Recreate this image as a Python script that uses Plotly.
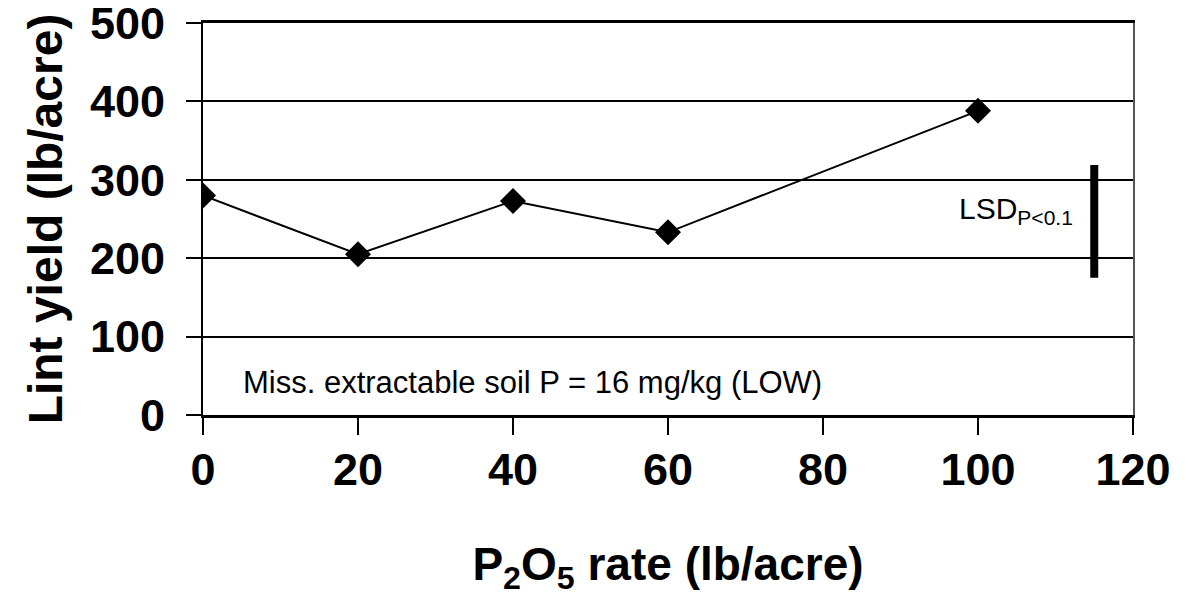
import plotly.graph_objects as go

# Data
p_rate = [0, 20, 40, 60, 100]
lint_yield = [280, 205, 273, 233, 388]
lsd_x = [115, 115]
lsd_y = [175, 319]
x_ticks = [0, 20, 40, 60, 80, 100, 120]
y_ticks = [0, 100, 200, 300, 400, 500]
note_text = "Miss. extractable soil P = 16 mg/kg (LOW)"
lsd_text = "LSD<sub>P&lt;0.1</sub>"
x_title = "P<sub>2</sub>O<sub>5</sub> rate (lb/acre)"
y_title = "Lint yield (lb/acre)"

FONT = "Liberation Sans, Arial, sans-serif"

fig = go.Figure()
fig.add_trace(go.Scatter(
    x=p_rate, y=lint_yield, mode="lines+markers",
    line=dict(color="black", width=2),
    marker=dict(symbol="diamond", size=20, color="black"),
    showlegend=False, hoverinfo="x+y"))
fig.add_trace(go.Scatter(
    x=lsd_x, y=lsd_y, mode="lines",
    line=dict(color="black", width=8),
    showlegend=False, hoverinfo="skip"))
# invisible trace on secondary axis to draw right frame line
fig.add_trace(go.Scatter(x=[p_rate[0]], y=[lint_yield[0]], yaxis="y2",
                         mode="markers", marker=dict(opacity=0),
                         showlegend=False, hoverinfo="skip"))

fig.add_annotation(x=4.9, y=42, text=note_text, showarrow=False,
                   xanchor="left", yanchor="middle",
                   font=dict(family=FONT, size=31, color="black"))
fig.add_annotation(x=112.5, y=261, text=lsd_text, showarrow=False,
                   xanchor="right", yanchor="middle",
                   font=dict(family=FONT, size=30, color="black"))

fig.update_layout(
    width=1177, height=597,
    margin=dict(l=195, r=52, t=15, b=190),
    paper_bgcolor="white", plot_bgcolor="white",
    font=dict(family=FONT, color="black"),
    xaxis=dict(
        range=[0, 120], tickvals=x_ticks, ticktext=[str(v) for v in x_ticks],
        showgrid=False, zeroline=False, automargin=False,
        showline=True, linecolor="black", linewidth=3, mirror=True,
        ticks="outside", ticklen=17, tickwidth=2, tickcolor="black",
        tickfont=dict(family=FONT, size=45, weight="bold"),
        ticklabelstandoff=-4, ticklabeloverflow="allow",
        title=dict(text=x_title, font=dict(family=FONT, size=46, weight="bold"),
                   standoff=54),
    ),
    yaxis=dict(
        range=[0, 500], tickvals=y_ticks, ticktext=[str(v) for v in y_ticks],
        showgrid=True, gridcolor="black", gridwidth=2, zeroline=False,
        automargin=False,
        showline=True, linecolor="black", linewidth=2,
        ticks="outside", ticklen=15, tickwidth=2, tickcolor="black",
        tickfont=dict(family=FONT, size=45, weight="bold"),
        ticklabelstandoff=12, ticklabeloverflow="allow",
        title=dict(text=y_title, font=dict(family=FONT, size=48, weight="bold"),
                   standoff=12),
    ),
    yaxis2=dict(
        overlaying="y", side="right", range=[0, 500], automargin=False,
        showline=True, linecolor="#555555", linewidth=2,
        showgrid=False, zeroline=False, showticklabels=False, ticks="",
    ),
)

fig.write_html("out.html")
